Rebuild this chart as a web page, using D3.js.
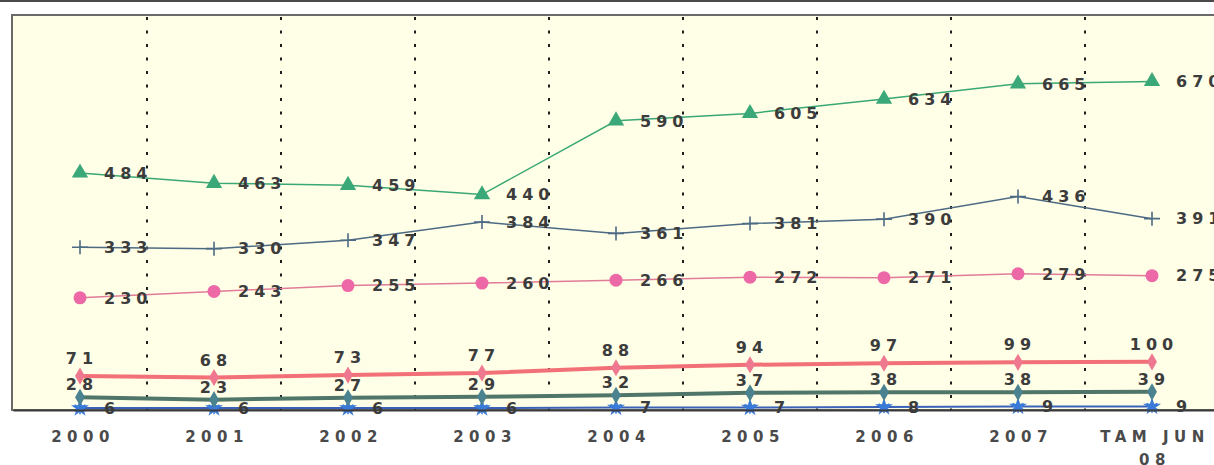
<!DOCTYPE html>
<html>
<head>
<meta charset="utf-8">
<script src="https://cdn.jsdelivr.net/npm/d3@7"></script>
<style>
  body { margin: 0; background: #ffffff; }
  svg { display: block; }
</style>
</head>
<body>
<svg id="chart" width="1214" height="465"></svg>
<script>
// data
const categories = ["2000", "2001", "2002", "2003", "2004", "2005", "2006", "2007", "TAM JUN 08"];
const tickLabels = [["2000"], ["2001"], ["2002"], ["2003"], ["2004"], ["2005"], ["2006"], ["2007"], ["TAM JUN", "08"]];
const greenValues = [484, 463, 459, 440, 590, 605, 634, 665, 670];
const slateValues = [333, 330, 347, 384, 361, 381, 390, 436, 391];
const pinkValues  = [230, 243, 255, 260, 266, 272, 271, 279, 275];
const redValues   = [71, 68, 73, 77, 88, 94, 97, 99, 100];
const tealValues  = [28, 23, 27, 29, 32, 37, 38, 38, 39];
const blueValues  = [6, 6, 6, 6, 7, 7, 8, 9, 9];

const svg = d3.select("#chart");
const W = +svg.attr("width");
const plot = { left: 13, right: 1219, top: 15, bottom: 410 };

const x = d3.scaleBand().domain(categories).range([plot.left, plot.right]).padding(0);
const y = d3.scaleLinear().domain([0, 805]).range([411, plot.top]);
const cx = (i) => x(categories[i]) + x.bandwidth() / 2;

// frame
svg.append("rect")
    .attr("x", 0).attr("y", 0)
    .attr("width", W).attr("height", 2)
    .attr("fill", "#4a4a4a");

svg.append("rect")
    .attr("x", plot.left - 1).attr("y", plot.top)
    .attr("width", plot.right - plot.left + 1).attr("height", plot.bottom - plot.top)
    .attr("fill", "#fffee6")
    .attr("stroke", "#6a6a6a")
    .attr("stroke-width", 2);

// dotted separators between categories
svg.append("g")
    .selectAll("line")
    .data(categories.slice(1))
    .join("line")
    .attr("x1", (d) => x(d)).attr("x2", (d) => x(d))
    .attr("y1", plot.top + 2).attr("y2", plot.bottom)
    .attr("stroke", "#1e1e1e")
    .attr("stroke-width", 2)
    .attr("stroke-dasharray", "3,10.5");

// series styles
const series = [
    { values: blueValues,  line: "#3a62b8", width: 2,   marker: "star",     fill: "#3a7ad8", label: "right" },
    { values: tealValues,  line: "#50766a", width: 4,   marker: "diamond",  fill: "#4a8290", label: "above", dy: -7 },
    { values: redValues,   line: "#f27078", width: 4,   marker: "diamond",  fill: "#ee7890", label: "above", dy: -12 },
    { values: pinkValues,  line: "#e07c98", width: 1.5, marker: "circle",   fill: "#ec68a6", label: "right" },
    { values: slateValues, line: "#4c6a84", width: 1.5, marker: "plus",     fill: "#4c6a84", label: "right" },
    { values: greenValues, line: "#3aa874", width: 1.5, marker: "triangle", fill: "#3aa878", label: "right" }
];

const line = d3.line()
    .x((d, i) => cx(i))
    .y((d) => y(d));

const lineG = svg.append("g");
const markG = svg.append("g");
const labelG = svg.append("g");

series.forEach((s) => {
    lineG.append("path")
        .attr("fill", "none")
        .attr("stroke", s.line)
        .attr("stroke-width", s.width)
        .attr("d", line(s.values));

    const pts = markG.append("g")
        .selectAll("g")
        .data(s.values)
        .join("g")
        .attr("transform", (d, i) => "translate(" + cx(i) + "," + y(d) + ")");

    if (s.marker === "triangle") {
        pts.append("path").attr("d", d3.symbol(d3.symbolTriangle, 115)).attr("fill", s.fill);
    } else if (s.marker === "circle") {
        pts.append("circle").attr("r", 6.5).attr("fill", s.fill);
    } else if (s.marker === "plus") {
        pts.append("path").attr("d", "M-8,0H8M0,-7V7").attr("stroke", s.fill).attr("stroke-width", 1.6);
    } else if (s.marker === "diamond") {
        pts.append("path").attr("d", d3.symbol(d3.symbolDiamond, 85)).attr("fill", s.fill);
    } else if (s.marker === "star") {
        pts.append("path").attr("d", d3.symbol(d3.symbolStar, 100)).attr("fill", s.fill);
        pts.append("path").attr("d", d3.symbol(d3.symbolAsterisk, 110)).attr("stroke", s.fill).attr("stroke-width", 1.5);
    }

    const labels = labelG.append("g")
        .selectAll("text")
        .data(s.values)
        .join("text")
        .text((d) => d)
        .attr("font-family", "DejaVu Sans, sans-serif")
        .attr("font-weight", "bold")
        .attr("font-size", "16px")
        .attr("letter-spacing", "5px")
        .attr("fill", "#3c3c3c");

    if (s.label === "right") {
        labels.attr("x", (d, i) => cx(i) + 24)
            .attr("y", (d) => y(d))
            .attr("dy", "0.36em");
    } else {
        labels.attr("text-anchor", "middle")
            .attr("x", (d, i) => cx(i) + 2)
            .attr("y", (d) => y(d) + s.dy);
    }
});

// X axis
const xAxis = svg.append("g")
    .attr("transform", "translate(0," + plot.bottom + ")")
    .call(d3.axisBottom(x).tickSize(0).tickSizeOuter(0).tickFormat(() => ""));

xAxis.select(".domain")
    .attr("stroke", "#3a3a3a")
    .attr("stroke-width", 2);

xAxis.selectAll(".tick text")
    .attr("y", 0).attr("dy", null)
    .attr("font-family", "DejaVu Sans, sans-serif")
    .attr("font-weight", "bold")
    .attr("font-size", "15px")
    .attr("letter-spacing", "5.5px")
    .attr("fill", "#4a4a4a")
    .each(function (d, i) {
        d3.select(this).selectAll("tspan")
            .data(tickLabels[i])
            .join("tspan")
            .attr("x", 3)
            .attr("y", (t, j) => 32 + j * 23)
            .text((t) => t);
    });
</script>
</body>
</html>
